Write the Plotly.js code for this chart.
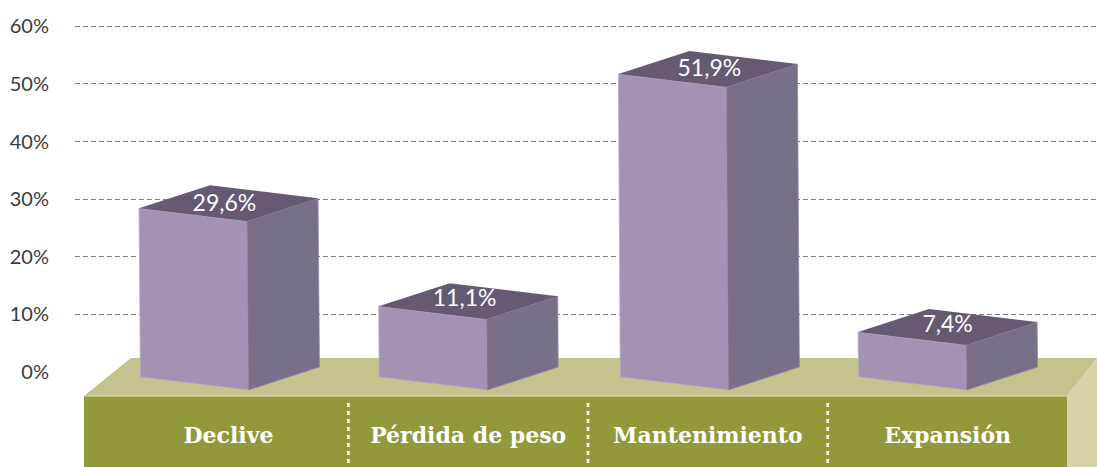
<!DOCTYPE html>
<html>
<head>
<meta charset="utf-8">
<script src="https://cdn.plot.ly/plotly-3.0.1.min.js"></script>
<style>html,body{margin:0;padding:0;background:#fff;overflow:hidden}#chart{width:1097px;height:467px}</style>
</head>
<body>
<div id="chart"></div>
<script>
// ---- data ----
const categories = ['Declive', 'Pérdida de peso', 'Mantenimiento', 'Expansión'];
const valueLabels = ['29,6%', '11,1%', '51,9%', '7,4%'];
const barHeights = [29.3, 12.3, 52.6, 7.8];
const axisTicks = [0, 10, 20, 30, 40, 50, 60];
const axisTickLabels = ['0%', '10%', '20%', '30%', '40%', '50%', '60%'];

// ---- pseudo-3D geometry, in axis units (x: category steps, y: percentage points) ----
const corner = { left: [-0.3734, -0.87], front: [0.0772, -3.125], right: [0.3734, 0.87], back: [-0.0772, 3.125] };
const baseLean = [0.006, 0.002, 0.008, 0.002];
const labelNudge = [[-0.017, -0.3], [-0.015, 0.15], [0.006, -0.15], [0, 0.15]];
const xRange = [-0.6404, 3.6233];
const yRange = [-16.49, 64.58];
const deck = { frontLeft: -0.6028, frontRight: 3.498, backLeft: -0.4068, backRight: 3.6233, backY: 2.43, frontY: -4.17, bottom: -16.49 };
const labelBand = { top: -5.4, bottom: -16.49 };

const colors = { front: '#a292b3', side: '#7a6f88', top: '#655a71', deckTop: '#c2c38d', deckSide: '#d4d3ab', deckFront: '#91993a' };

function poly(xs, ys, fill, line) {
  return { type: 'scatter', mode: 'lines', x: xs.concat(xs[0]), y: ys.concat(ys[0]), fill: 'toself', fillcolor: fill,
    line: { color: line || fill, width: line ? 0.8 : 0 }, hoverinfo: 'skip', showlegend: false };
}

const traces = [
  poly([deck.frontLeft, deck.backLeft, deck.backRight, deck.frontRight], [deck.frontY, deck.backY, deck.backY, deck.frontY], colors.deckTop),
  poly([deck.frontRight, deck.backRight, deck.backRight, deck.frontRight], [deck.frontY, deck.backY, deck.bottom, deck.bottom], colors.deckSide),
  poly([deck.frontLeft, deck.frontRight, deck.frontRight, deck.frontLeft], [deck.frontY, deck.frontY, deck.bottom, deck.bottom], colors.deckFront),
  { type: 'scatter', mode: 'lines', x: [deck.frontLeft, deck.frontRight], y: [deck.frontY, deck.frontY],
    line: { color: '#dfe0c4', width: 1 }, hoverinfo: 'skip', showlegend: false }
];

barHeights.forEach(function (h, i) {
  const tx = function (c) { return i + c[0]; };
  const ty = function (c) { return h + c[1]; };
  const bx = function (c) { return i + baseLean[i] + c[0]; };
  const by = function (c) { return c[1]; };
  const l = corner.left, f = corner.front, r = corner.right, b = corner.back;
  traces.push(poly([tx(l), tx(f), bx(f), bx(l)], [ty(l), ty(f), by(f), by(l)], colors.front, '#b9adc6'));
  traces.push(poly([tx(f), tx(r), bx(r), bx(f)], [ty(f), ty(r), by(r), by(f)], colors.side, '#9388a0'));
  traces.push(poly([tx(l), tx(b), tx(r), tx(f)], [ty(l), ty(b), ty(r), ty(f)], colors.top));
});

[0.5, 1.5, 2.5].forEach(function (x) {
  traces.push({ type: 'scatter', mode: 'lines', x: [x, x], y: [labelBand.top, labelBand.bottom],
    line: { color: '#ffffff', width: 2.5, dash: '4px,4px' }, hoverinfo: 'skip', showlegend: false });
});

traces.push({ type: 'scatter', mode: 'text',
  x: barHeights.map(function (h, i) { return i + labelNudge[i][0]; }),
  y: barHeights.map(function (h, i) { return h + labelNudge[i][1]; }),
  text: valueLabels, textposition: 'middle center',
  textfont: { family: 'Lato, sans-serif', size: 23, color: '#ffffff' }, hoverinfo: 'skip', showlegend: false });

const layout = {
  width: 1097, height: 467,
  margin: { l: 75, r: 0, t: 0, b: 0, pad: 0 },
  paper_bgcolor: '#ffffff', plot_bgcolor: '#ffffff',
  showlegend: false,
  xaxis: {
    range: xRange, showgrid: false, zeroline: false, showline: false, ticks: '',
    tickmode: 'array', tickvals: categories.map(function (c, i) { return i; }), ticktext: categories,
    ticklabelposition: 'inside', ticklabelstandoff: 17,
    tickfont: { family: '"DejaVu Serif", serif', size: 22, color: '#ffffff', weight: 700 }
  },
  yaxis: {
    range: yRange, showgrid: false, zeroline: false, showline: false, ticks: '',
    tickmode: 'array', tickvals: axisTicks, ticktext: axisTickLabels,
    ticklabelstandoff: 25,
    tickfont: { family: 'Lato, sans-serif', size: 20, color: '#3c3c3c' },
    minor: { tickmode: 'array', tickvals: axisTicks.slice(1), ticks: '', showgrid: true,
      gridcolor: '#7d7d7d', gridwidth: 1, griddash: '5px,3px' }
  }
};

Plotly.newPlot('chart', traces, layout, { displayModeBar: false, staticPlot: true });
</script>
</body>
</html>
